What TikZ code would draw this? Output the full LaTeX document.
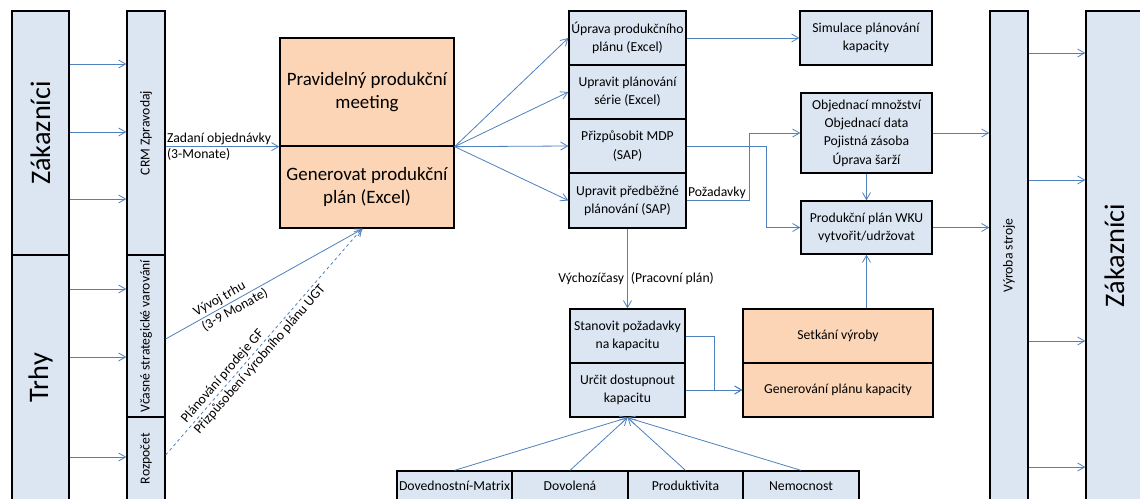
\documentclass[tikz,border=0pt]{standalone}
\usepackage{fontspec}
\setmainfont{Carlito}
\usetikzlibrary{arrows.meta}
\definecolor{boxblue}{HTML}{DCE6F2}
\definecolor{boxorange}{HTML}{FBD5B5}
\definecolor{lineblue}{HTML}{4F81BD}
\newcommand{\bigtxt}{\fontsize{28.3}{32}\selectfont}
\newcommand{\midtxt}{\fontsize{18.9}{23}\selectfont}
\begin{document}
\begin{tikzpicture}[x=1pt,y=-1pt,
  box/.style={draw=black, line width=1.3pt, fill=boxblue, inner sep=0pt, align=center,
              font=\fontsize{13.7}{18.3}\selectfont},
  obox/.style={box, fill=boxorange},
  arr/.style={draw=lineblue, line width=0.8pt, -{Straight Barb[length=7pt,width=8pt]}},
  lbl/.style={font=\fontsize{13.7}{17}\selectfont, inner sep=1pt},
]
\clip (0,0) rectangle (1140,498);
\fill[white] (0,0) rectangle (1140,498);

% left columns
\node[box, minimum width=57, minimum height=244] (zak) at (40.5,133) {\rotatebox{90}{\bigtxt Zákazníci}};
\node[box, minimum width=57, minimum height=245] (trhy) at (40.5,377.5) {\rotatebox{90}{\bigtxt Trhy}};
\node[box, minimum width=38, minimum height=244] (crm) at (146,133) {\rotatebox{90}{CRM Zpravodaj}};
\node[box, minimum width=38, minimum height=162] (vcas) at (146,336) {\rotatebox{90}{Včasné strategické varování}};
\node[box, minimum width=38, minimum height=83] (roz) at (146,458.5) {\rotatebox{90}{Rozpočet}};

% orange production meeting
\node[obox, minimum width=174, minimum height=108, font=\midtxt] (meet) at (367,92) {Pravidelný produkční\\meeting};
\node[obox, minimum width=174, minimum height=82, font=\midtxt] (gen) at (367,187) {Generovat produkční\\plán (Excel)};

% right column of steps
\node[box, minimum width=117, minimum height=54] (b1) at (627.5,38) {Úprava produkčního\\plánu (Excel)};
\node[box, minimum width=117, minimum height=54] (b2) at (627.5,92) {Upravit plánování\\série (Excel)};
\node[box, minimum width=117, minimum height=54] (b3) at (627.5,146) {Přizpůsobit MDP\\(SAP)};
\node[box, minimum width=117, minimum height=55] (b4) at (627.5,200.5) {Upravit předběžné\\plánování (SAP)};

\node[box, minimum width=132, minimum height=54] (sim) at (866,38) {Simulace plánování\\kapacity};
\node[box, minimum width=131, minimum height=80] (obj) at (866.5,133) {Objednací množství\\Objednací data\\Pojistná zásoba\\Úprava šarží};
\node[box, minimum width=131, minimum height=53] (wku) at (866.5,227.5) {Produkční plán WKU\\vytvořit/udržovat};

% capacity
\node[box, minimum width=115, minimum height=54] (stan) at (627.5,336) {Stanovit požadavky\\na kapacitu};
\node[box, minimum width=115, minimum height=54] (urc) at (627.5,390) {Určit dostupnout\\kapacitu};
\node[obox, minimum width=190, minimum height=54] (set) at (838,336) {Setkání výroby};
\node[obox, minimum width=190, minimum height=54] (genk) at (838,390) {Generování plánu kapacity};

\node[box, minimum width=115, minimum height=30] (dov) at (454.5,486) {Dovednostní-Matrix};
\node[box, minimum width=116, minimum height=30] (dovol) at (570,486) {Dovolená};
\node[box, minimum width=115, minimum height=30] (prod) at (685.5,486) {Produktivita};
\node[box, minimum width=116, minimum height=30] (nem) at (801,486) {Nemocnost};

% far right
\node[box, minimum width=38, minimum height=489] (vyr) at (1009,255.5) {\rotatebox{90}{Výroba stroje}};
\node[box, minimum width=57, minimum height=489] (zak2) at (1114.5,255.5) {\rotatebox{90}{\bigtxt Zákazníci}};

% connectors left
\draw[arr] (zak.east |- 0,64) -- (crm.west |- 0,64);
\draw[arr] (zak.east |- 0,132) -- (crm.west |- 0,132);
\draw[arr] (zak.east |- 0,199) -- (crm.west |- 0,199);
\draw[arr] (trhy.east |- 0,289) -- (vcas.west |- 0,289);
\draw[arr] (trhy.east |- 0,357) -- (vcas.west |- 0,357);
\draw[arr] (trhy.east |- 0,457) -- (roz.west |- 0,457);

\draw[arr] (crm.east |- meet.south west) -- (meet.south west)
  node[lbl, pos=0, anchor=south west] {Zadaní objednávky}
  node[lbl, pos=0, anchor=north west] {(3-Monate)};

\draw[arr] (vcas.east |- 0,339) -- (gen.south -| 363,0)
  node[lbl, pos=0.33, sloped, align=left] {Vývoj trhu\\(3-9 Monate)};
\draw[arr, dashed] (roz.east |- 0,455) -- (gen.south -| 362,0)
  node[lbl, pos=0.447, sloped, align=left] {Plánování prodeje GF\\Přizpůsobení výrobního plánu UGT};

% fan
\draw[arr] (meet.south east) -- (b1.west);
\draw[arr] (meet.south east) -- (b2.west);
\draw[arr] (meet.south east) -- (b3.west);
\draw[arr] (meet.south east) -- (b4.west);

\draw[arr] (b1.east) -- (sim.west);
\draw[arr] (b3.east) -- ++(80,0) |- (wku.west);
\draw[arr] (b4.east) -- node[lbl, pos=0, anchor=south west] {Požadavky} ++(63,0) |- (obj.west);
\draw[arr] (obj.south) -- (wku.north);
\draw[arr] (obj.east) -- (obj.east -| vyr.west);
\draw[arr] (wku.east) -- (wku.east -| vyr.west);

\draw[arr] (b4.south) -- (stan.north)
  node[lbl, pos=0.63, left, inner sep=3pt] {Výchozíčasy}
  node[lbl, pos=0.63, right, inner sep=3pt] {(Pracovní plán)};

\draw[arr] (stan.east) -- ++(29,0) |- (genk.west);
\draw[arr] (urc.east) -- (genk.west);
\draw[arr] (wku.south |- set.north) -- (wku.south);

\draw[arr] (dov.north) -- (urc.south);
\draw[arr] (dovol.north) -- (urc.south);
\draw[arr] (prod.north) -- (urc.south);
\draw[arr] (nem.north) -- (urc.south);

\draw[arr] (vyr.east |- 0,53) -- (zak2.west |- 0,53);
\draw[arr] (vyr.east |- 0,180) -- (zak2.west |- 0,180);
\draw[arr] (vyr.east |- 0,341) -- (zak2.west |- 0,341);
\draw[arr] (vyr.east |- 0,467) -- (zak2.west |- 0,467);
\end{tikzpicture}
\end{document}
